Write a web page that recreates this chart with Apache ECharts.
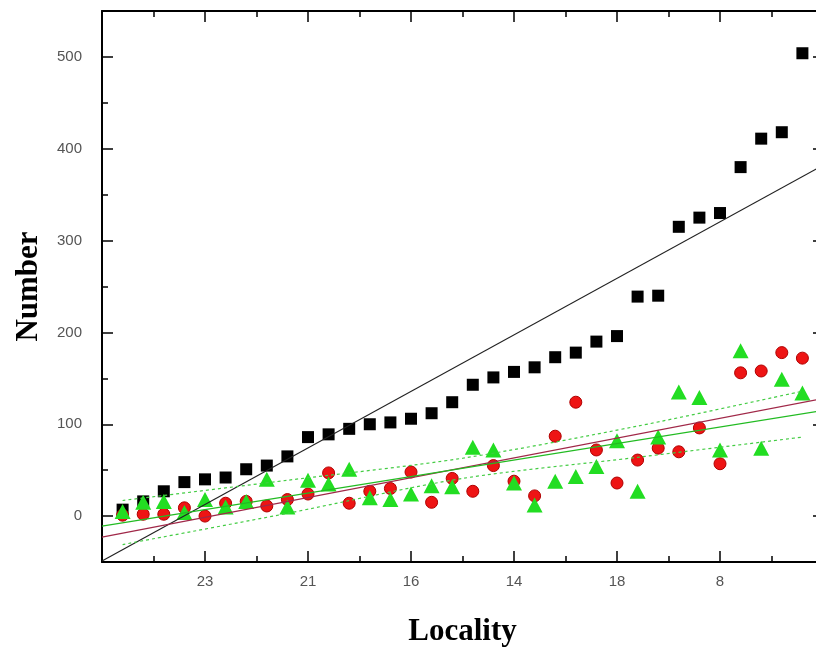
<!DOCTYPE html>
<html>
<head>
<meta charset="utf-8">
<script src="https://cdn.jsdelivr.net/npm/echarts@6/dist/echarts.min.js"></script>
<style>
html, body { margin: 0; padding: 0; background: #fff; }
#chart { width: 816px; height: 650px; }
</style>
</head>
<body>
<div id="chart"></div>
<script>
// localities are plotted by rank (1..34), only every 5th is labelled
const xTickValues = [5, 10, 15, 20, 25, 30];
const xTickLabels = ['23', '21', '16', '14', '18', '8'];
const yTickValues = [0, 100, 200, 300, 400, 500];

// values, one per locality rank
const blackCounts = [7, 16, 27, 37, 40, 42, 51, 55, 65, 86, 89, 95, 100, 102, 106, 112, 124,
    143, 151, 157, 162, 173, 178, 190, 196, 239, 240, 315, 325, 330, 380, 411, 418, 504];
const redCounts = [1, 2, 2, 9, 0, 14, 16, 11, 18, 24, 47, 14, 27, 30, 48, 15, 41,
    27, 55, 38, 22, 87, 124, 72, 36, 61, 74, 70, 96, 57, 156, 158, 178, 172];
const greenCounts = [5, 15, 16, 4, 18, 10, 16, 40, 10, 39, 35, 51, 20, 18, 24, 33, 32,
    75, 72, 36, 12, 38, 43, 54, 82, 27, 86, 135, 129, 72, 180, 74, 149, 134];

// fitted lines, end points
const blackFit = [[0, -49], [35, 382]];
const redFit = [[0, -23], [35, 128]];
const greenFit = [[0, -11], [35, 115]];
const greenUpper = [[1, 17], [9, 39], [17.5, 63], [26, 98], [34, 136]];
const greenLower = [[1, -31], [9, 3], [17.5, 41], [26, 64], [34, 86]];

const chart = echarts.init(document.getElementById('chart'), null, { renderer: 'canvas' });

function toPoints(values) {
    return values.map((v, i) => [i + 1, v]);
}

function xLabel(v) {
    const k = xTickValues.indexOf(v);
    return k >= 0 ? xTickLabels[k] : '';
}

const axisLine = { onZero: false, lineStyle: { color: '#000', width: 2 } };
const tickStyle = { color: '#000', width: 1.5 };
const nameStyle = { fontFamily: 'Liberation Serif', fontWeight: 'bold', fontSize: 31, color: '#000' };
const labelStyle = { color: '#555', fontSize: 15, fontFamily: 'Liberation Sans' };

function fitLine(data, color, dashed) {
    return {
        type: 'line',
        data: data,
        showSymbol: false,
        symbol: 'none',
        smooth: dashed ? 0.3 : false,
        z: 3,
        lineStyle: { color: color, width: 1.2, type: dashed ? [3, 3] : 'solid' }
    };
}

const option = {
    animation: false,
    backgroundColor: '#fff',
    grid: { left: 102, top: 11, width: 721, height: 551, outerBoundsMode: 'none' },
    xAxis: [{
        type: 'value',
        position: 'bottom',
        min: 0, max: 35, interval: 5,
        name: 'Locality',
        nameLocation: 'middle',
        nameGap: 54,
        nameTextStyle: nameStyle,
        axisLine: axisLine,
        axisTick: { inside: true, length: 11, lineStyle: tickStyle },
        minorTick: { show: true, splitNumber: 2, length: 6, lineStyle: tickStyle },
        axisLabel: Object.assign({ formatter: xLabel, margin: 12 }, labelStyle),
        splitLine: { show: false }
    }, {
        type: 'value',
        position: 'top',
        min: 0, max: 35, interval: 5,
        axisLine: axisLine,
        axisTick: { inside: true, length: 11, lineStyle: tickStyle },
        minorTick: { show: true, splitNumber: 2, length: 6, lineStyle: tickStyle },
        axisLabel: { show: false },
        splitLine: { show: false }
    }],
    yAxis: [{
        type: 'value',
        position: 'left',
        min: -50, max: 550, interval: 50,
        name: 'Number',
        nameLocation: 'middle',
        nameGap: 58,
        nameTextStyle: nameStyle,
        axisLine: axisLine,
        axisTick: { inside: true, length: 6, lineStyle: tickStyle },
        axisLabel: Object.assign({
            formatter: v => (v % 100 === 0 ? String(v) : ''),
            margin: 20
        }, labelStyle),
        splitLine: { show: false }
    }, {
        type: 'value',
        position: 'left',
        min: -50, max: 550,
        axisLine: { show: false, onZero: false },
        axisTick: { inside: true, length: 11, lineStyle: tickStyle, customValues: yTickValues },
        axisLabel: { show: false },
        splitLine: { show: false }
    }, {
        type: 'value',
        position: 'right',
        min: -50, max: 550,
        axisLine: axisLine,
        axisTick: { inside: true, length: 10, lineStyle: tickStyle, customValues: yTickValues },
        axisLabel: { show: false },
        splitLine: { show: false }
    }],
    series: [{
        type: 'scatter',
        data: toPoints(blackCounts),
        symbol: 'rect',
        symbolSize: 12,
        z: 2,
        itemStyle: { color: '#000', opacity: 1 }
    }, {
        type: 'scatter',
        data: toPoints(redCounts),
        symbol: 'circle',
        symbolSize: 12,
        z: 2,
        itemStyle: { color: '#ee1414', borderColor: '#b00000', borderWidth: 1, opacity: 1 }
    }, {
        type: 'scatter',
        data: toPoints(greenCounts),
        symbol: 'triangle',
        symbolSize: [16, 15],
        z: 2,
        itemStyle: { color: '#22dd22', opacity: 1 }
    },
    fitLine(blackFit, '#222', false),
    fitLine(redFit, '#a02848', false),
    fitLine(greenFit, '#22bb22', false),
    fitLine(greenUpper, '#44cc44', true),
    fitLine(greenLower, '#44cc44', true)
    ]
};

chart.setOption(option);
</script>
</body>
</html>
